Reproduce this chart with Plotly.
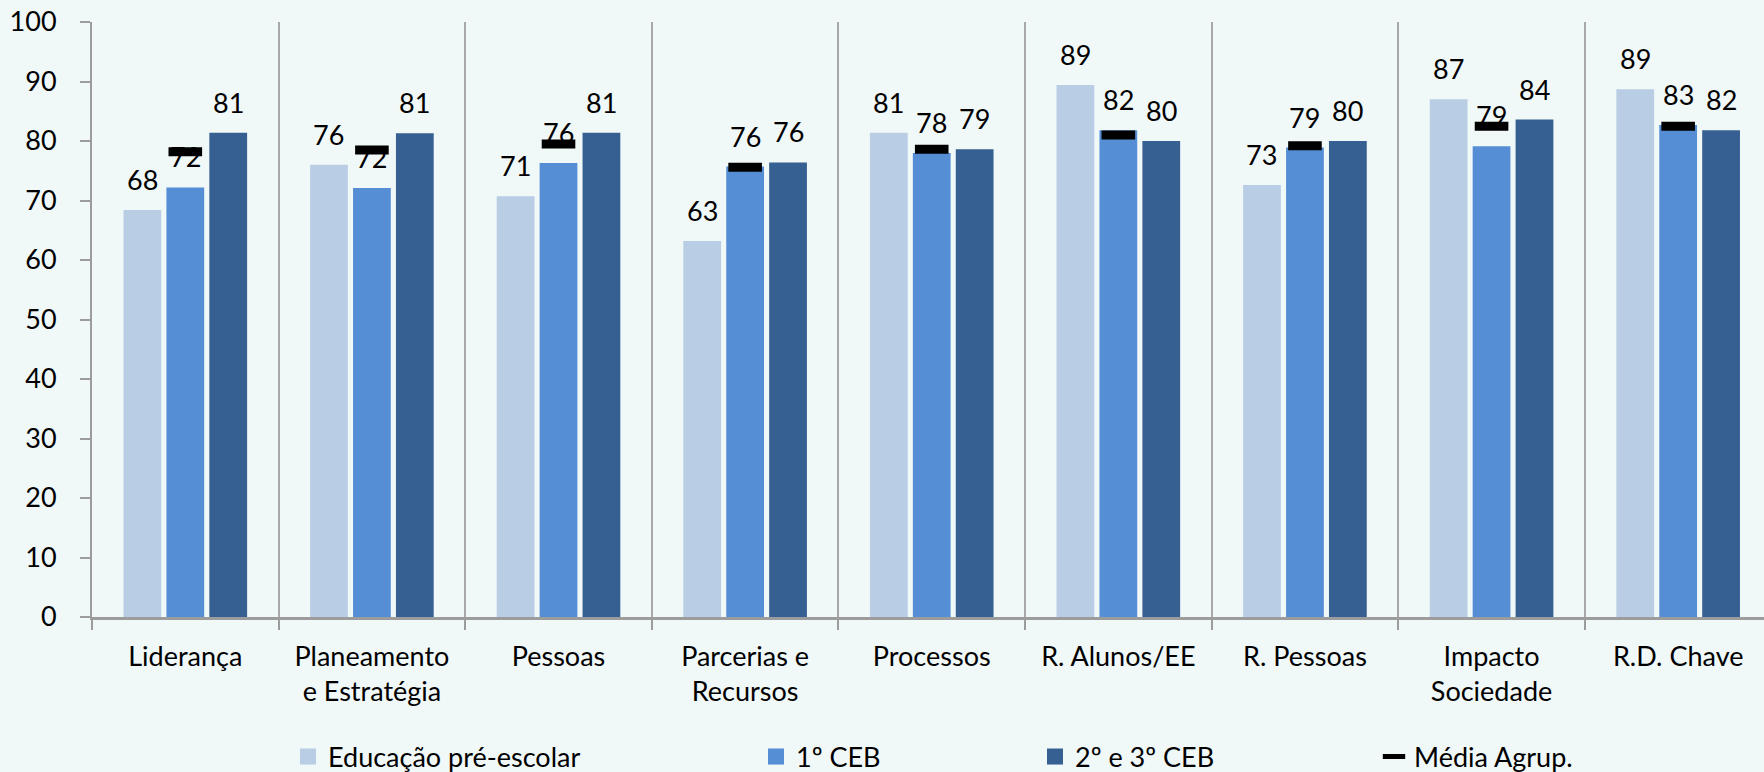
import plotly.graph_objects as go

# ---------------- data ----------------
categories = ["Liderança", "Planeamento<br>e Estratégia", "Pessoas", "Parcerias e<br>Recursos",
              "Processos", "R. Alunos/EE", "R. Pessoas", "Impacto<br>Sociedade", "R.D. Chave"]
pre_escolar = [68.4, 76.0, 70.7, 63.2, 81.4, 89.4, 72.6, 87.0, 88.7]
ceb1 = [72.2, 72.1, 76.3, 75.7, 78.0, 81.8, 78.9, 79.1, 82.7]
ceb23 = [81.4, 81.3, 81.4, 76.4, 78.6, 80.0, 80.0, 83.6, 81.8]
media = [78.2, 78.5, 79.5, 75.6, 78.6, 81.0, 79.2, 82.5, 82.5]
series_names = ["Educação pré-escolar", "1º CEB", "2º e 3º CEB", "Média Agrup."]
y_ticks = list(range(0, 101, 10))

# ---------------- style ----------------
W, H = 1764, 772
FONT = "Lato"
FS = 27
BG = "#F0F8F8"
colors = ["#B9CDE5", "#558ED5", "#376092"]
AXIS = "#9C9C9C"
legend_x_px = [288, 756, 1035, 1374]
label_xshift = [-43, 0, 43]

fig = go.Figure()
bar_series = [pre_escolar, ceb1, ceb23]
legends = ["legend", "legend2", "legend3", "legend4"]
for i, vals in enumerate(bar_series):
    fig.add_trace(go.Bar(
        x=categories, y=vals, name=series_names[i],
        marker=dict(color=colors[i], line=dict(width=0)),
        showlegend=False, hoverinfo="x+y+name",
    ))
    # legend entry with a larger square swatch
    fig.add_trace(go.Scatter(
        x=[None], y=[None], name=series_names[i], mode="markers",
        marker=dict(symbol="square", size=20, color=colors[i]),
        legend=legends[i], showlegend=True,
    ))

fig.add_trace(go.Scatter(
    x=categories, y=media, name=series_names[3], mode="markers",
    marker=dict(symbol="line-ew", size=24, color="black",
                line=dict(width=9, color="black")),
    legend=legends[3], cliponaxis=False,
))

annotations = []
for i, vals in enumerate(bar_series):
    for c, v in zip(categories, vals):
        annotations.append(dict(
            x=c, y=v, text=str(round(v)), showarrow=False,
            xshift=label_xshift[i], yshift=12, yanchor="bottom",
            font=dict(family=FONT, size=FS, color="black"),
        ))

legend_common = dict(
    orientation="h", xref="container", yref="container",
    y=1 - 757 / H, yanchor="middle", xanchor="left",
    font=dict(family=FONT, size=FS, color="black"),
    bgcolor="rgba(0,0,0,0)", borderwidth=0,
)
layout_legends = {}
for k, name in enumerate(legends):
    d = dict(legend_common)
    d["x"] = legend_x_px[k] / W
    layout_legends[name] = d

fig.update_layout(
    width=W, height=H,
    paper_bgcolor=BG, plot_bgcolor=BG,
    margin=dict(l=92, r=0, t=22, b=155),
    barmode="group", bargap=0.31, bargroupgap=0.12,
    font=dict(family=FONT, size=FS, color="black"),
    annotations=annotations,
    showlegend=True,
    **layout_legends,
)

fig.update_xaxes(
    type="category", range=[-0.5, 8.46],
    tickson="boundaries", ticks="outside", ticklen=10, tickcolor=AXIS, tickwidth=1.5,
    showgrid=True, gridcolor="#A8A8A8", gridwidth=1.5,
    showline=True, linecolor=AXIS, linewidth=2.5,
    tickfont=dict(family=FONT, size=FS, color="black"),
    ticklabelstandoff=14,
    fixedrange=True,
)
fig.update_yaxes(
    range=[0, 100], tickvals=y_ticks, ticktext=[str(t) for t in y_ticks],
    ticks="outside", ticklen=10, tickcolor=AXIS, tickwidth=1.5,
    showgrid=False, zeroline=False,
    showline=True, linecolor=AXIS, linewidth=2,
    tickfont=dict(family=FONT, size=FS, color="black"),
    ticklabelstandoff=18,
    fixedrange=True,
)

fig.write_html(
    "out.html",
    config={"displayModeBar": False},
    post_script="document.body.style.margin='0';document.body.style.background='" + BG + "';",
)
